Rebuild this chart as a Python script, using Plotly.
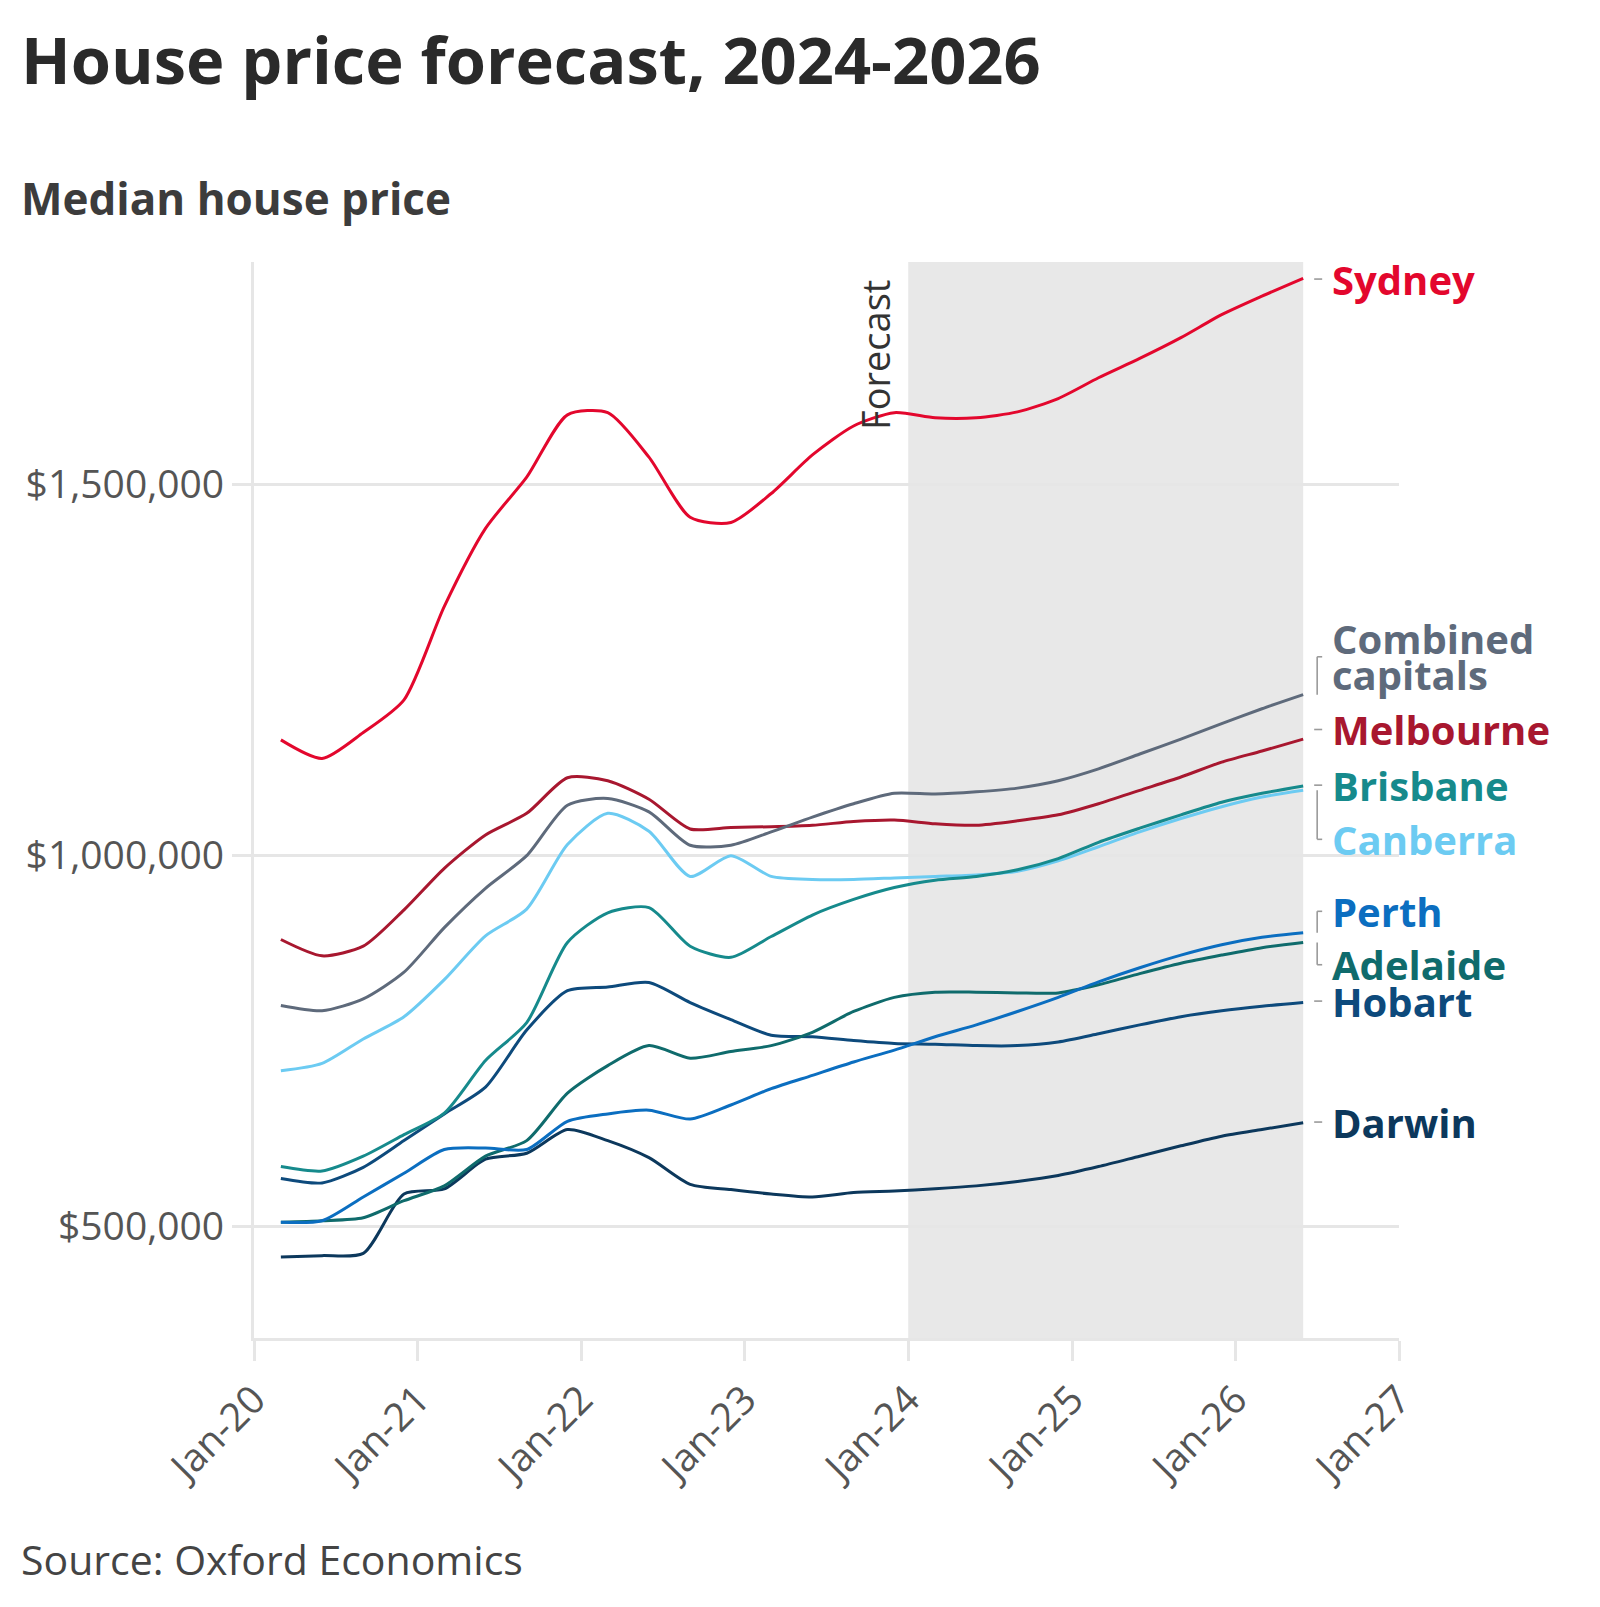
import plotly.graph_objects as go

# ---------------- data ----------------
dates = ["2020-03-01", "2020-06-01", "2020-09-01", "2020-12-01",
         "2021-03-01", "2021-06-01", "2021-09-01", "2021-12-01",
         "2022-03-01", "2022-06-01", "2022-09-01", "2022-12-01",
         "2023-03-01", "2023-06-01", "2023-09-01", "2023-12-01",
         "2024-03-01", "2024-06-01", "2024-09-01", "2024-12-01",
         "2025-03-01", "2025-06-01", "2025-09-01", "2025-12-01",
         "2026-03-01", "2026-06-01"]

sydney = [1156000, 1131000, 1166000, 1210000, 1336000, 1441000, 1510000, 1594000,
          1597000, 1537000, 1456000, 1449000, 1488000, 1540000, 1579000, 1597000,
          1590000, 1590000, 1598000, 1616000, 1644000, 1670000, 1698000, 1729000,
          1754000, 1778000]
combined = [798000, 791000, 807000, 843000, 903000, 956000, 1000000, 1068000,
            1077000, 1059000, 1014000, 1014000, 1032000, 1052000, 1070000, 1084000,
            1083000, 1086000, 1091000, 1101000, 1117000, 1137000, 1157000, 1178000,
            1198000, 1217000]
melbourne = [887000, 865000, 878000, 927000, 983000, 1028000, 1057000, 1105000,
             1101000, 1076000, 1036000, 1038000, 1039000, 1041000, 1046000, 1048000,
             1043000, 1041000, 1047000, 1055000, 1070000, 1088000, 1106000, 1126000,
             1141000, 1157000]
brisbane = [581000, 575000, 595000, 624000, 653000, 724000, 775000, 883000,
            923000, 930000, 878000, 863000, 891000, 920000, 941000, 957000,
            967000, 972000, 981000, 996000, 1018000, 1037000, 1055000, 1072000,
            1084000, 1094000]
canberra = [710000, 720000, 753000, 783000, 833000, 892000, 928000, 1015000,
            1057000, 1033000, 972000, 1000000, 972000, 968000, 968000, 970000,
            972000, 974000, 979000, 993000, 1012000, 1032000, 1050000, 1066000,
            1079000, 1088000]
perth = [506000, 508000, 540000, 572000, 604000, 606000, 604000, 642000,
         652000, 657000, 645000, 664000, 686000, 704000, 722000, 738000,
         756000, 772000, 790000, 809000, 830000, 849000, 866000, 880000,
         890000, 896000]
adelaide = [506000, 508000, 512000, 535000, 555000, 595000, 616000, 680000,
            717000, 744000, 727000, 736000, 744000, 762000, 790000, 809000,
            816000, 816000, 815000, 815000, 826000, 841000, 855000, 866000,
            876000, 883000]
hobart = [565000, 559000, 580000, 616000, 652000, 688000, 765000, 818000,
          823000, 829000, 802000, 779000, 758000, 756000, 751000, 747000,
          746000, 744000, 744000, 749000, 760000, 772000, 783000, 791000,
          797000, 802000]
darwin = [459000, 461000, 464000, 544000, 551000, 591000, 599000, 631000,
          616000, 593000, 557000, 550000, 544000, 540000, 546000, 548000,
          551000, 555000, 561000, 569000, 581000, 595000, 609000, 622000,
          631000, 640000]

series_names = ["Darwin", "Hobart", "Adelaide", "Perth", "Canberra",
                "Brisbane", "Melbourne", "Combined capitals", "Sydney"]
series_values = [darwin, hobart, adelaide, perth, canberra,
                 brisbane, melbourne, combined, sydney]
label_lines = [["Darwin"], ["Hobart"], ["Adelaide"], ["Perth"], ["Canberra"],
               ["Brisbane"], ["Melbourne"], ["Combined", "capitals"], ["Sydney"]]

y_tick_values = [500000, 1000000, 1500000]
forecast_start = "2024-01-01"

# ---------------- styling / positions ----------------
colors = {
    "Sydney": "#e3072d",
    "Combined capitals": "#5e6a7b",
    "Melbourne": "#a8172f",
    "Brisbane": "#168a8c",
    "Canberra": "#6ccbf2",
    "Perth": "#0b6ec0",
    "Adelaide": "#0f6b6c",
    "Hobart": "#0d4a7c",
    "Darwin": "#0c385c",
}
# vertical position (value scale) of each end label after de-overlapping
label_pos = {
    "Sydney": 1777000,
    "Combined capitals": 1268000,
    "Melbourne": 1170000,
    "Brisbane": 1095000,
    "Canberra": 1022000,
    "Perth": 925000,
    "Adelaide": 853000,
    "Hobart": 804000,
    "Darwin": 641000,
}
LINE_GAP = 48000  # value-scale spacing of wrapped label lines

W, H = 1600, 1607
ML, MR, MT, MB = 246, 209, 254, 277
PW, PH = W - ML - MR, H - MT - MB


def paper_x(px):
    return (px - ML) / PW


def paper_y(py):
    return 1 - (py - MT) / PH


FONT = "Open Sans"
GRID = "#e6e6e6"

fig = go.Figure()

for name, vals in zip(series_names, series_values):
    fig.add_trace(go.Scatter(
        x=dates, y=vals, mode="lines", name=name,
        line=dict(color=colors[name], width=3, shape="spline", smoothing=0.7),
        hoverinfo="skip", showlegend=False,
    ))

# forecast shading
fig.add_shape(type="rect", xref="x", yref="paper",
              x0=forecast_start, x1=dates[-1], y0=0, y1=1,
              fillcolor="#e8e8e8", line_width=0, layer="below")

fig.add_annotation(x=forecast_start, y=1675000, xref="x", yref="y",
                   text="Forecast", textangle=-90, showarrow=False,
                   xanchor="right", yanchor="middle", xshift=-5,
                   font=dict(family=FONT, size=38, color="#333333"))

# end labels and connectors
end_x = dates[-1]
gray = dict(color="#9a9a9a", width=1.6)
for name, vals, lines in zip(series_names, series_values, label_lines):
    yl = label_pos[name]
    ye = vals[-1]
    n = len(lines)
    for i, txt in enumerate(lines):
        yy = yl + ((n - 1) / 2 - i) * LINE_GAP
        fig.add_annotation(x=end_x, y=yy, xref="x", yref="y", text=f"<b>{txt}</b>",
                           showarrow=False, xanchor="left", yanchor="middle",
                           xshift=27, align="left",
                           font=dict(family=FONT, size=40, color=colors[name]))
    if abs(yl - ye) < 15000:
        fig.add_shape(type="line", xref="x", yref="y", xsizemode="pixel",
                      xanchor=end_x, x0=11, x1=19, y0=yl, y1=yl, line=gray)
    else:
        fig.add_shape(type="line", xref="x", yref="y", xsizemode="pixel",
                      xanchor=end_x, x0=14, x1=14, y0=ye, y1=yl, line=gray)
        fig.add_shape(type="line", xref="x", yref="y", xsizemode="pixel",
                      xanchor=end_x, x0=14, x1=19, y0=yl, y1=yl, line=gray)

# titles & source
fig.add_annotation(xref="paper", yref="paper", x=paper_x(11), y=paper_y(51),
                   xanchor="left", yanchor="middle", showarrow=False,
                   text="<b>House price forecast, 2024-2026</b>",
                   font=dict(family=FONT, size=65, color="#2a2a2a"))
fig.add_annotation(xref="paper", yref="paper", x=paper_x(11), y=paper_y(190),
                   xanchor="left", yanchor="middle", showarrow=False,
                   text="<b>Median house price</b>",
                   font=dict(family=FONT, size=44, color="#3c3c3c"))
fig.add_annotation(xref="paper", yref="paper", x=paper_x(11), y=paper_y(1551),
                   xanchor="left", yanchor="middle", showarrow=False,
                   text="Source: Oxford Economics",
                   font=dict(family=FONT, size=41, color="#444444"))

fig.update_xaxes(
    type="date", range=["2020-01-01", "2027-01-01"],
    dtick="M12", tick0="2020-01-01", tickformat="%b-%y", tickangle=-45,
    showgrid=False, showline=True, linecolor=GRID, linewidth=3,
    ticks="outside", ticklen=20, tickwidth=3, tickcolor=GRID,
    tickfont=dict(family=FONT, size=39, color="#555555"),
    zeroline=False, fixedrange=True,
)
fig.update_yaxes(
    range=[350000, 1800000], tickvals=y_tick_values, tickformat="$,.0f",
    showgrid=True, gridcolor=GRID, gridwidth=3,
    showline=True, linecolor=GRID, linewidth=3,
    ticks="outside", ticklen=19, tickwidth=3, tickcolor=GRID,
    tickfont=dict(family=FONT, size=39, color="#555555"),
    zeroline=False, fixedrange=True,
)

fig.update_layout(
    width=W, height=H,
    margin=dict(l=ML, r=MR, t=MT, b=MB),
    plot_bgcolor="white", paper_bgcolor="white",
    showlegend=False,
)

fig.write_html("out.html")
